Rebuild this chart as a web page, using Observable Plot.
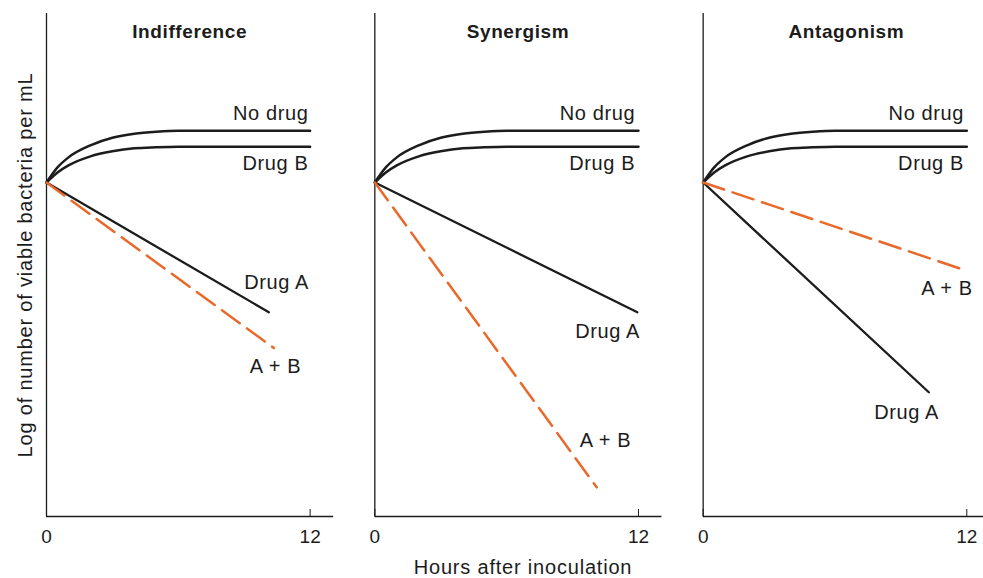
<!DOCTYPE html>
<html>
<head>
<meta charset="utf-8">
<script src="https://cdn.jsdelivr.net/npm/d3@7"></script>
<script src="https://cdn.jsdelivr.net/npm/@observablehq/plot@0.6"></script>
<style>
  html, body { margin: 0; padding: 0; background: #fff; }
  #chart svg { display: block; }
  #chart svg g[aria-label="text"] text { letter-spacing: 0.6px; }
  #chart svg g.axis-title text { letter-spacing: 0.8px; }
</style>
</head>
<body>
<div id="chart"></div>
<script>
// ---- data ----
const panels = ["Indifference", "Synergism", "Antagonism"];
const seriesNames = ["No drug", "Drug B", "Drug A", "A + B"];

// growth curves (same in every panel): hours vs log count
const growthHours = [0, 0.5, 1, 2, 3, 4, 5, 6, 12];
const noDrugLog   = [6.64, 6.94, 7.14, 7.38, 7.53, 7.61, 7.65, 7.67, 7.67];
const drugBLog    = [6.64, 6.84, 6.98, 7.16, 7.26, 7.32, 7.34, 7.35, 7.35];

// straight kill lines: start at hour 0, end values per panel
const startHour = 0;
const startLog = 6.64;
const drugAEndHour = [10.12, 11.95, 10.27];
const drugAEndLog  = [4.06, 4.06, 2.47];
const comboEndHour = [10.35, 10.10, 11.90];
const comboEndLog  = [3.35, 0.58, 4.90];

// curve labels per panel, in the order of seriesNames
const labelHourByPanel = [
  [11.92, 11.92, 11.95, 11.59],
  [11.85, 11.85, 12.07, 11.67],
  [11.87, 11.87, 10.73, 12.27]
];
const labelLogByPanel = [
  [8.01, 7.02, 4.66, 2.98],
  [8.01, 7.02, 3.68, 1.51],
  [8.01, 7.02, 2.07, 4.53]
];

const xTicks = [0, 12];
const xAxisEnd = 13.07;
const yLabel = "Log of number of viable bacteria per mL";
const xLabel = "Hours after inoculation";

// ---- build tables ----
const growthRows = [];
panels.forEach(p => {
  growthHours.forEach((h, i) => {
    growthRows.push({panel: p, series: "No drug", hour: h, log: noDrugLog[i]});
    growthRows.push({panel: p, series: "Drug B", hour: h, log: drugBLog[i]});
  });
});
const drugARows = [];
const comboRows = [];
panels.forEach((p, k) => {
  drugARows.push({panel: p, hour: startHour, log: startLog});
  drugARows.push({panel: p, hour: drugAEndHour[k], log: drugAEndLog[k]});
  comboRows.push({panel: p, hour: startHour, log: startLog});
  comboRows.push({panel: p, hour: comboEndHour[k], log: comboEndLog[k]});
});
const labelRows = [];
panels.forEach((p, k) => {
  seriesNames.forEach((s, j) => {
    labelRows.push({panel: p, text: s, hour: labelHourByPanel[k][j], log: labelLogByPanel[k][j]});
  });
});

const font = "'Liberation Sans', Arial, Helvetica, sans-serif";
const ink = "#1c1c1c";
const orange = "#e8692a";

const chart = Plot.plot({
  width: 983,
  height: 578,
  marginLeft: 46,
  marginRight: 0,
  marginTop: 13,
  marginBottom: 62,
  style: {fontFamily: font, fontSize: "19px", color: ink, background: "#fff"},
  facet: {marginTop: 0, marginRight: 0, marginBottom: 0, marginLeft: 0},
  fx: {domain: panels, paddingInner: 0.1462, paddingOuter: 0, round: false, axis: null},
  x: {domain: [0, 12.76], ticks: xTicks, tickSize: -7, tickPadding: 20, tickFormat: d => String(d), label: null},
  y: {domain: [0, 10], axis: null},
  marks: [
    // axis lines per panel
    Plot.ruleX(panels, {fx: d => d, x: 0, stroke: ink, strokeWidth: 1.3}),
    Plot.ruleY(panels, {fx: d => d, y: 0, x1: 0, x2: xAxisEnd, stroke: ink, strokeWidth: 1.3}),
    // panel titles
    Plot.text(panels, {fx: d => d, text: d => d, frameAnchor: "top", lineAnchor: "middle", dy: 18, dx: 3, fontWeight: "bold", fontSize: 19, fill: ink}),
    // growth curves
    Plot.line(growthRows, {fx: "panel", x: "hour", y: "log", z: "series", curve: "monotone-x", stroke: ink, strokeWidth: 2.5}),
    // Drug A
    Plot.line(drugARows, {fx: "panel", x: "hour", y: "log", stroke: ink, strokeWidth: 2.3}),
    // A + B dashed
    Plot.line(comboRows, {fx: "panel", x: "hour", y: "log", stroke: orange, strokeWidth: 2.5, strokeDasharray: "22,9"}),
    // curve labels
    Plot.text(labelRows, {fx: "panel", x: "hour", y: "log", text: "text", textAnchor: "end", fontSize: 20, fill: ink}),
    // axis titles
    Plot.text([yLabel], {text: d => d, frameAnchor: "left", textAnchor: "middle", lineAnchor: "middle", rotate: -90, dx: -21, facet: "super", fontSize: 20, fill: ink, className: "axis-title"}),
    Plot.text([xLabel], {text: d => d, frameAnchor: "bottom", textAnchor: "middle", lineAnchor: "middle", dx: 8, dy: 50.7, facet: "super", fontSize: 20, fill: ink, className: "axis-title"})
  ]
});
document.getElementById("chart").appendChild(chart);
</script>
</body>
</html>
